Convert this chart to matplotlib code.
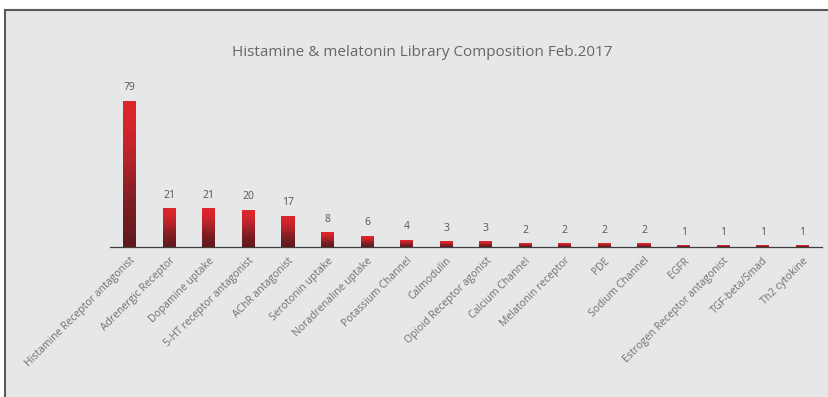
import numpy as np
import matplotlib
matplotlib.use("Agg")
import matplotlib.pyplot as plt
from matplotlib.patches import Rectangle
from matplotlib.lines import Line2D
from matplotlib.colors import LinearSegmentedColormap

categories = [
    "Histamine Receptor antagonist", "Adrenergic Receptor", "Dopamine uptake",
    "5-HT receptor antagonist", "AChR antagonist", "Serotonin uptake",
    "Noradrenaline uptake", "Potassium Channel", "Calmodulin",
    "Opioid Receptor agonist", "Calcium Channel", "Melatonin receptor",
    "PDE", "Sodium Channel", "EGFR", "Estrogen Receptor antagonist",
    "TGF-beta/Smad", "Th2 cytokine",
]
counts = [79, 21, 21, 20, 17, 8, 6, 4, 3, 3, 2, 2, 2, 2, 1, 1, 1, 1]
title = "Histamine & melatonin Library Composition Feb.2017"

plt.rcParams["font.family"] = ["Open Sans", "DejaVu Sans"]

W, H = 829, 397
fig = plt.figure(figsize=(W / 100, H / 100), dpi=100)
fig.patch.set_facecolor("white")

# grey panel with a dark frame on the left and top
panel_bg = "#e6e7e9"
fig.patches.append(Rectangle((5 / W, 0), 1, 1 - 10 / H, transform=fig.transFigure,
                             facecolor=panel_bg, edgecolor="none", zorder=-5))
fig.lines.append(Line2D([5 / W, 5 / W], [0, 1 - 10 / H], transform=fig.transFigure,
                        color="#5a5a5a", lw=1.5, zorder=-4))
fig.lines.append(Line2D([5 / W, 1], [1 - 10 / H, 1 - 10 / H], transform=fig.transFigure,
                        color="#5a5a5a", lw=1.5, zorder=-4))

# axes placement in pixels
x0, x1 = 110, 822
y_base, y_top = 247, 80
ax = fig.add_axes([x0 / W, 1 - y_base / H, (x1 - x0) / W, (y_base - y_top) / H])
ax.set_zorder(2)
ax.set_facecolor("none")
ymax = 79 * (y_base - y_top) / (247 - 101)

for s in ["top", "right", "left"]:
    ax.spines[s].set_visible(False)
ax.spines["bottom"].set_color("#404040")
ax.spines["bottom"].set_linewidth(0.9)
ax.spines["bottom"].set_zorder(1)
ax.set_yticks([])

# vertical fade: dark maroon at the base, bright red at the top
cmap = LinearSegmentedColormap.from_list(
    "redfade",
    [(0.0, "#5f191c"), (0.3, "#7c1d21"), (0.6, "#b5232a"),
     (0.85, "#d7252b"), (1.0, "#dc262b")])

bw = 0.33
n_slices = 60
x = np.arange(len(categories))
for xi, v in zip(x, counts):
    # each bar is built from thin horizontal slices coloured along the fade
    edges = np.linspace(0, v, n_slices + 1)
    mids = (np.arange(n_slices) + 0.5) / n_slices
    ax.bar(np.full(n_slices, xi), np.diff(edges), bottom=edges[:-1], width=bw,
           color=cmap(mids), edgecolor="none", linewidth=0, antialiased=False,
           zorder=2)
    ax.annotate(str(v), (xi, v), xytext=(0, 9.4), textcoords="offset points",
                ha="center", va="center", fontsize=7.5, color="#555555")
ax.set_xlim(-0.5, len(categories) - 0.5)
ax.set_ylim(0, ymax)

ax.set_xticks(x)
ax.set_xticklabels(categories, rotation=45, ha="right", va="top",
                   rotation_mode="anchor", fontsize=7.5, color="#707070")
ax.tick_params(axis="x", length=0, pad=6)

fig.text(422 / W, 1 - 52 / H, title, ha="center", va="center",
         fontsize=11, color="#666666")

fig.savefig("out.png", dpi=100, facecolor=fig.get_facecolor())
